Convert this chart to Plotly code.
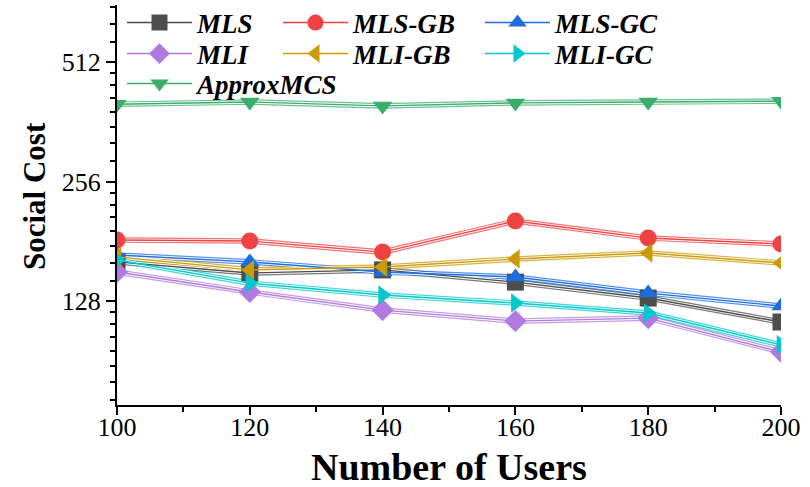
import numpy as np
import plotly.graph_objects as go

# Number of users on the x axis
users = [100, 120, 140, 160, 180, 200]

# Social cost of each mechanism
mls = [160.6, 150.6, 153.3, 142.8, 130.2, 113.3]
mls_gb = [182.3, 181.3, 170.0, 203.6, 184.4, 178.2]
mls_gc = [167.1, 160.6, 151.4, 147.1, 134.0, 124.3]
mli = [151.4, 134.9, 121.4, 113.9, 115.9, 95.2]
mli_gb = [165.3, 153.3, 155.9, 163.3, 169.1, 159.6]
mli_gc = [162.4, 142.0, 132.5, 126.5, 119.4, 99.2]
approx_mcs = [401, 406, 397, 404, 406, 408]

y_ticks = [128, 256, 512]
y_minor = [72, 80, 88, 96, 104, 112, 120,
           144, 160, 176, 192, 208, 224, 240,
           288, 320, 352, 384, 416, 448, 480,
           576, 640, 704]

# Plot-area geometry (pixels) used to place legends and titles
PL, PR, PT, PB = 117, 781, 5, 405
PW, PH = PR - PL, PB - PT


def px_x(px):
    return (px - PL) / PW


def px_y(py):
    return (PB - py) / PH


series = [
    # name, values, colour, symbol, legend id, legend left px, row centre px
    ("MLS", mls, "#4d4d4d", "square", "legend", 122, 23),
    ("MLS-GB", mls_gb, "#ef4242", "circle", "legend2", 278, 23),
    ("MLS-GC", mls_gc, "#1c6de0", "triangle-up", "legend3", 480, 23),
    ("MLI", mli, "#b07ae0", "diamond", "legend4", 122, 54),
    ("MLI-GB", mli_gb, "#cc9a06", "triangle-left", "legend5", 278, 54),
    ("MLI-GC", mli_gc, "#00c8cc", "triangle-right", "legend6", 480, 54),
    ("ApproxMCS", approx_mcs, "#3aae6a", "triangle-down", "legend7", 122, 84),
]

fig = go.Figure()

# Triple-stroke look: wide coloured stroke, white inner stroke,
# then a thin coloured centre line with the markers on top.
for s in series:
    name, vals, col = s[0], s[1], s[2]
    fig.add_trace(go.Scatter(x=users, y=vals, mode="lines", showlegend=False,
                             line=dict(color=col, width=5.6), opacity=0.75,
                             hoverinfo="skip"))
for s in series:
    vals = s[1]
    fig.add_trace(go.Scatter(x=users, y=vals, mode="lines", showlegend=False,
                             line=dict(color="white", width=3.2),
                             hoverinfo="skip"))
for name, vals, col, sym, lg, lx, ly in series:
    fig.add_trace(go.Scatter(x=users, y=vals, mode="lines+markers", name=name,
                             legend=lg,
                             line=dict(color=col, width=1.4),
                             marker=dict(symbol=sym, size=17, color=col,
                                         line=dict(width=0))))

legend_font = dict(family="Liberation Serif", size=27, color="black",
                   style="italic", weight="bold")
legends = {}
for name, vals, col, sym, lg, lx, ly in series:
    legends[lg] = dict(font=legend_font, bgcolor="rgba(0,0,0,0)",
                       xanchor="left", yanchor="middle",
                       x=px_x(lx), y=px_y(ly), itemwidth=65,
                       orientation="v", borderwidth=0)

title_font = dict(family="Liberation Serif", color="black", weight="bold")

fig.update_layout(
    width=810, height=487,
    margin=dict(l=PL, r=810 - PR, t=PT, b=487 - PB, autoexpand=False),
    plot_bgcolor="white", paper_bgcolor="white",
    font=dict(family="Liberation Serif", size=20, color="black"),
    xaxis=dict(
        range=[100, 200], tickvals=users, showgrid=False, zeroline=False,
        showline=True, linecolor="black", linewidth=2,
        ticks="outside", ticklen=8, tickwidth=2, tickcolor="black",
        ticklabelstandoff=-10,
        tickfont=dict(family="Liberation Serif", size=26),
        minor=dict(tickvals=[110, 130, 150, 170, 190], ticks="outside",
                   ticklen=5, tickwidth=2, tickcolor="black"),
    ),
    yaxis=dict(
        type="log", range=[np.log10(70), np.log10(713)],
        tickvals=y_ticks, ticktext=[str(v) for v in y_ticks],
        showgrid=False, zeroline=False,
        showline=True, linecolor="black", linewidth=2,
        ticks="outside", ticklen=9, tickwidth=2, tickcolor="black",
        tickfont=dict(family="Liberation Serif", size=26),
        minor=dict(tickvals=y_minor, ticks="outside", ticklen=5,
                   tickwidth=2, tickcolor="black", showgrid=False),
    ),
    annotations=[
        dict(text="Number of Users", xref="paper", yref="paper",
             x=px_x(449), y=px_y(467), xanchor="center", yanchor="middle",
             showarrow=False, font=dict(title_font, size=38)),
        dict(text="Social Cost", xref="paper", yref="paper",
             x=px_x(34), y=px_y(196), xanchor="center", yanchor="middle",
             textangle=-90, showarrow=False, font=dict(title_font, size=31)),
    ],
)
fig.update_layout(**legends)

fig.write_html("out.html")
